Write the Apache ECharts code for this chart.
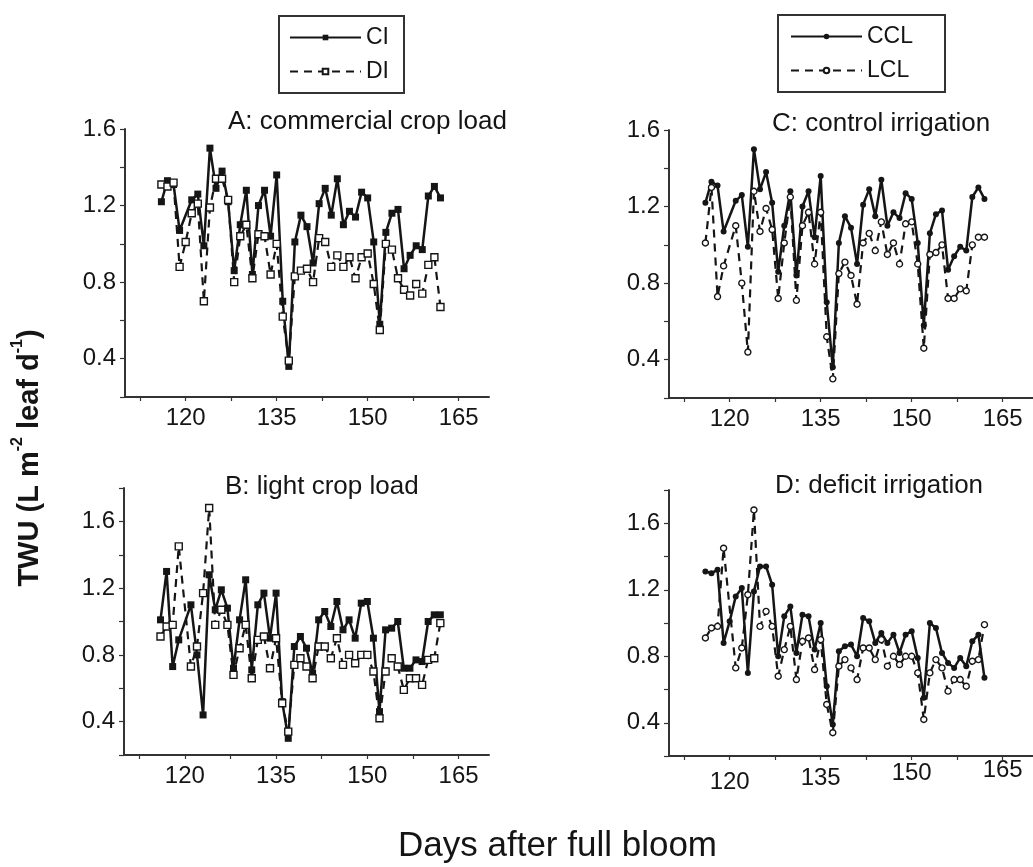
<!DOCTYPE html>
<html>
<head>
<meta charset="utf-8">
<script src="https://cdn.jsdelivr.net/npm/echarts@6/dist/echarts.min.js"></script>
<style>html,body{margin:0;padding:0;background:#fff}#c{width:1033px;height:867px}</style>
</head>
<body>
<div id="c"></div>
<script>
// Days after full bloom
const days = [116,117,118,119,120,121,122,123,124,125,126,127,128,129,130,131,132,133,134,135,136,137,138,139,140,141,142,143,144,145,146,147,148,149,150,151,152,153,154,155,156,157,158,159,160,161,162];
// commercial crop load, control irrigation (CI in A, CCL in C)
const cclCI = [1.22,1.33,1.31,1.07,null,1.23,1.26,0.99,1.50,1.29,1.38,1.22,0.86,1.10,1.28,0.84,1.20,1.28,1.04,1.36,0.70,0.36,1.01,1.15,1.09,0.90,1.21,1.29,1.15,1.34,1.10,1.17,1.14,1.27,1.24,1.01,0.58,1.06,1.16,1.18,0.87,0.94,0.99,0.97,1.25,1.30,1.24];
// commercial crop load, deficit irrigation (DI in A, CCL in D)
const cclDI = [1.31,1.30,1.32,0.88,1.01,1.16,1.21,0.70,1.19,1.34,1.34,1.23,0.80,1.04,1.10,0.82,1.05,1.04,0.84,1.00,0.62,0.39,0.83,0.86,0.87,0.80,1.03,1.01,0.88,0.94,0.88,0.93,0.82,0.93,0.95,0.79,0.55,1.00,0.97,0.82,0.76,0.73,0.79,0.74,0.89,0.93,0.67];
// light crop load, control irrigation (CI in B, LCL in C)
const lclCI = [1.01,1.30,0.73,0.89,null,1.10,0.80,0.44,1.28,1.07,1.19,1.08,0.72,1.01,1.25,0.71,1.10,1.17,0.90,1.17,0.52,0.30,0.85,0.91,0.84,0.69,1.01,1.06,0.97,1.12,0.95,1.01,0.90,1.11,1.12,0.90,0.46,0.95,0.96,1.00,0.72,0.72,0.77,0.76,1.00,1.04,1.04];
// light crop load, deficit irrigation (DI in B, LCL in D)
const lclDI = [0.91,0.97,0.98,1.45,null,0.73,0.85,1.17,1.68,0.98,1.07,0.98,0.68,0.84,0.98,0.66,0.89,0.91,0.72,0.90,0.51,0.34,0.74,0.78,0.73,0.66,0.85,0.85,0.78,0.90,0.74,0.80,0.75,0.80,0.80,0.70,0.42,0.70,0.78,0.73,0.59,0.66,0.66,0.62,0.77,0.78,0.99];

const xLabelValues = [120,135,150,165];
const xTickValues = [112.5,120,127.5,135,142.5,150,157.5,165];
const yLabelValues = [0.4,0.8,1.2,1.6];
const panelTitles = ['A: commercial crop load','B: light crop load','C: control irrigation','D: deficit irrigation'];

const FONT = 'Liberation Sans, Arial, Helvetica, sans-serif';
const INK = '#151515';
const AX = '#333';

function pairs(vals){ return days.map((d,i)=>[d, vals[i]]); }

const grids = [
  {left:125, top:129, width:364, height:268},
  {left:124, top:488, width:365, height:267},
  {left:669, top:130, width:371, height:268},
  {left:669, top:490, width:371, height:266}
];
const yMax = [1.6, 1.8, 1.6, 1.8];

function xAxisFor(i){
  const lab = {
    fontSize:24, color:INK, fontFamily:FONT, margin:9,
    customValues: xLabelValues
  };
  if (i === 3) {
    lab.margin = 2;
    lab.formatter = v => '{t' + v + '|' + v + '}';
    lab.rich = {
      t120:{fontSize:24, color:INK, fontFamily:FONT, padding:[12,0,0,0]},
      t135:{fontSize:24, color:INK, fontFamily:FONT, padding:[8,0,0,0]},
      t150:{fontSize:24, color:INK, fontFamily:FONT, padding:[3,0,0,0]},
      t165:{fontSize:24, color:INK, fontFamily:FONT, padding:[0,0,0,0]}
    };
  }
  return {
    type:'value', gridIndex:i, min:110, max:170,
    axisLine:{show:true, lineStyle:{color:AX, width:2}},
    axisTick:{show:true, inside:false, length:4, lineStyle:{color:AX, width:1.2}, customValues: xTickValues},
    axisLabel: lab,
    splitLine:{show:false}
  };
}
function yAxisFor(i){
  return {
    type:'value', gridIndex:i, min:0.2, max:yMax[i], interval:0.2,
    axisLine:{show:true, lineStyle:{color:AX, width:2}},
    axisTick:{show:true, inside:false, length:5, lineStyle:{color:AX, width:1.2}},
    axisLabel:{
      fontSize:24, color:INK, fontFamily:FONT, margin:9,
      formatter: v => (yLabelValues.some(t => Math.abs(t - v) < 1e-6) ? v.toFixed(1) : '')
    },
    splitLine:{show:false}
  };
}

function solid(name, vals, idx, sym){
  return {
    type:'line', name:name, xAxisIndex:idx, yAxisIndex:idx, data:pairs(vals),
    connectNulls:true, symbol:sym, symbolSize: sym === 'rect' ? 7 : 6,
    lineStyle:{color:INK, width:2.5, type:'solid'},
    itemStyle:{color:INK, borderColor:INK, borderWidth:0},
    z:3
  };
}
function dashed(name, vals, idx, sym){
  return {
    type:'line', name:name, xAxisIndex:idx, yAxisIndex:idx, data:pairs(vals),
    connectNulls:true, symbol:sym, symbolSize: sym === 'rect' ? 7 : 6,
    lineStyle:{color:INK, width:2.2, type:[8,6]},
    itemStyle:{color:'#fff', borderColor:INK, borderWidth:1.4},
    z:4
  };
}

const series = [
  solid('CI', cclCI, 0, 'rect'),
  dashed('DI', cclDI, 0, 'rect'),
  solid('CI', lclCI, 1, 'rect'),
  dashed('DI', lclDI, 1, 'rect'),
  solid('CCL', cclCI, 2, 'circle'),
  dashed('LCL', lclCI, 2, 'circle'),
  solid('CCL', cclDI, 3, 'circle'),
  dashed('LCL', lclDI, 3, 'circle')
];

const titleBase = {padding:0, textStyle:{fontSize:26, fontWeight:'normal', color:INK, fontFamily:FONT}};
const titles = [
  Object.assign({text:panelTitles[0], left:228, top:109}, titleBase),
  Object.assign({text:panelTitles[1], left:225, top:474}, titleBase),
  Object.assign({text:panelTitles[2], left:772, top:111}, titleBase),
  Object.assign({text:panelTitles[3], left:775, top:473}, titleBase),
  {text:'Days after full bloom', left:398, top:829, padding:0,
   textStyle:{fontSize:35, fontWeight:'normal', color:INK, fontFamily:FONT}}
];

const legendBase = {
  orient:'vertical', itemWidth:71, itemHeight:7, itemGap:11,
  borderColor:AX, borderWidth:2, borderRadius:0, selectedMode:false,
  textStyle:{fontSize:23, color:INK, fontFamily:FONT}
};
const legends = [
  Object.assign({data:['CI','DI'], left:279, top:16, padding:[10,15,10,10]}, legendBase),
  Object.assign({data:['CCL','LCL'], left:778, top:15, padding:[10,32,10,12], itemWidth:72}, legendBase)
];

const chart = echarts.init(document.getElementById('c'), null, {renderer:'canvas'});
chart.setOption({
  animation:false,
  backgroundColor:'#fff',
  title: titles,
  legend: legends,
  grid: grids,
  xAxis: [0,1,2,3].map(xAxisFor),
  yAxis: [0,1,2,3].map(yAxisFor),
  series: series,
  graphic: [{
    type:'text', x:27, y:458, rotation:Math.PI/2,
    style:{
      text:'{b|TWU (L m}{s|-2}{b| leaf d}{s|-1}{b|)}',
      align:'center', verticalAlign:'middle',
      rich:{
        b:{fontSize:29, fontWeight:'bold', fill:INK, fontFamily:FONT, lineHeight:34, verticalAlign:'bottom'},
        s:{fontSize:16, fontWeight:'bold', fill:INK, fontFamily:FONT, lineHeight:34, verticalAlign:'top'}
      }
    }
  }]
});
</script>
</body>
</html>
